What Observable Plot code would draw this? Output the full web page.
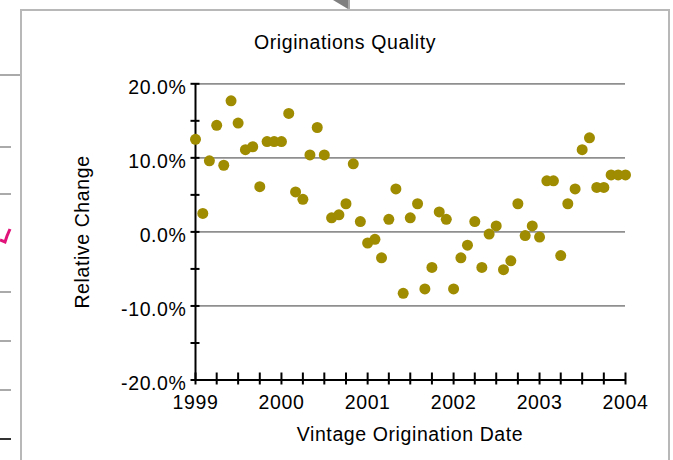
<!DOCTYPE html>
<html>
<head>
<meta charset="utf-8">
<script src="https://cdn.jsdelivr.net/npm/d3@7"></script>
<script src="https://cdn.jsdelivr.net/npm/@observablehq/plot@0.6"></script>
<style>
  html, body { margin: 0; padding: 0; background: #fff; }
  body { width: 673px; height: 460px; position: relative; overflow: hidden; }
  #deco { position: absolute; left: 0; top: 0; }
  #panel { position: absolute; left: 20px; top: 9px; width: 646px; height: 470px;
           border: 2px solid #b8b8b8; background: #fff; }
  #chart { position: absolute; left: 0; top: 0; }
  #chart svg { font-family: "Liberation Sans", Arial, sans-serif; font-size: 19.5px; color: #000; }
  #chart svg text { letter-spacing: 0.6px; fill: #000; }
</style>
</head>
<body>
<svg id="deco" width="673" height="460">
  <line x1="0" y1="75" x2="21" y2="75" stroke="#aaa" stroke-width="2"/>
  <line x1="0" y1="147" x2="11" y2="147" stroke="#aaa" stroke-width="2"/>
  <line x1="0" y1="194" x2="11" y2="194" stroke="#aaa" stroke-width="2"/>
  <line x1="0" y1="292" x2="11" y2="292" stroke="#aaa" stroke-width="2"/>
  <line x1="0" y1="341" x2="11" y2="341" stroke="#aaa" stroke-width="2"/>
  <line x1="0" y1="390" x2="11" y2="390" stroke="#aaa" stroke-width="2"/>
  <line x1="0" y1="439" x2="11" y2="439" stroke="#333" stroke-width="2"/>
  <polyline points="0,240 5,242 7,236 10,229" fill="none" stroke="#e0137a" stroke-width="3"/>
  <polygon points="333,0 348,0 348,9" fill="#808080"/>
  <line x1="349" y1="0" x2="349" y2="9" stroke="#aaa" stroke-width="2"/>
</svg>
<div id="panel"></div>
<div id="chart"></div>
<script>
// Data: monthly relative change (%) by vintage origination month, Jan 1999 – Jan 2004
const startMonth = "1999-01-01";
const endMonthExclusive = "2004-02-01";
const relativeChange = [
  12.5, 2.5, 9.6, 14.4, 9.0, 17.7, 14.7, 11.1, 11.5, 6.1, 12.2, 12.2,   // 1999
  12.2, 16.0, 5.4, 4.4, 10.4, 14.1, 10.4, 1.9, 2.3, 3.8, 9.2, 1.4,      // 2000
  -1.5, -1.0, -3.5, 1.7, 5.8, -8.3, 1.9, 3.8, -7.7, -4.8, 2.7, 1.7,     // 2001
  -7.7, -3.5, -1.8, 1.4, -4.8, -0.3, 0.8, -5.1, -3.9, 3.8, -0.5, 0.8,   // 2002
  -0.7, 6.9, 6.9, -3.2, 3.8, 5.8, 11.1, 12.7, 6.0, 6.0, 7.7, 7.7,      // 2003
  7.7                                                                  // 2004
];
const yMajorTicks = [-20, -10, 0, 10, 20];
const yMinorTicks = [-20, -15, -10, -5, 0, 5, 10, 15, 20];
const gridLines = [-10, 0, 10, 20];
const yearTicks = ["1999", "2000", "2001", "2002", "2003", "2004"];
const titleText = "Originations Quality";
const xLabelText = "Vintage Origination Date";
const yLabelText = "Relative Change";

const months = d3.utcMonth.range(new Date(startMonth), new Date(endMonthExclusive));
const data = relativeChange.map((v, i) => ({date: months[i], value: v}));
const yearDates = yearTicks.map(y => new Date(y + "-01-01"));
const quarterDates = d3.utcMonth.every(3).range(new Date("1999-01-01"), new Date("2004-01-02"));

const W = 673, H = 460;
const mL = 195, mR = 48, mT = 83.3, mB = 80.5;
const frameW = W - mL - mR, frameH = H - mT - mB;

const plot = Plot.plot({
  width: W, height: H,
  marginLeft: mL, marginRight: mR, marginTop: mT, marginBottom: mB,
  x: {type: "utc", domain: [yearDates[0], yearDates[yearDates.length - 1]]},
  y: {domain: [-20, 20]},
  marks: [
    Plot.ruleY(gridLines, {stroke: "#8f8f8f", strokeWidth: 1.8}),
    Plot.ruleY([-20], {stroke: "#000", strokeWidth: 2}),
    Plot.ruleX([yearDates[0]], {stroke: "#000", strokeWidth: 2}),
    Plot.tickY(yMinorTicks, {y: d => d, stroke: "#000", strokeWidth: 2, insetRight: frameW - 9, dx: -4.5}),
    Plot.tickX(quarterDates, {x: d => d, stroke: "#000", strokeWidth: 2, insetTop: frameH - 12, dy: 5}),
    Plot.axisY(yMajorTicks, {tickSize: 0, tickPadding: 9, dy: 3.5, tickFormat: d => d.toFixed(1) + "%", label: null}),
    Plot.axisX(yearDates, {tickSize: 0, tickPadding: 15, tickFormat: d => String(d.getUTCFullYear()), label: null}),
    Plot.dot(data, {x: "date", y: "value", fill: "#a08c00", r: 5.5})
  ]
});
document.getElementById("chart").appendChild(plot);

const svg = d3.select(plot);
svg.append("text").attr("x", 345).attr("y", 49).attr("text-anchor", "middle").text(titleText);
svg.append("text").attr("x", 410).attr("y", 441).attr("text-anchor", "middle").text(xLabelText);
svg.append("text").attr("transform", "translate(89,232) rotate(-90)").attr("text-anchor", "middle").text(yLabelText);
</script>
</body>
</html>
